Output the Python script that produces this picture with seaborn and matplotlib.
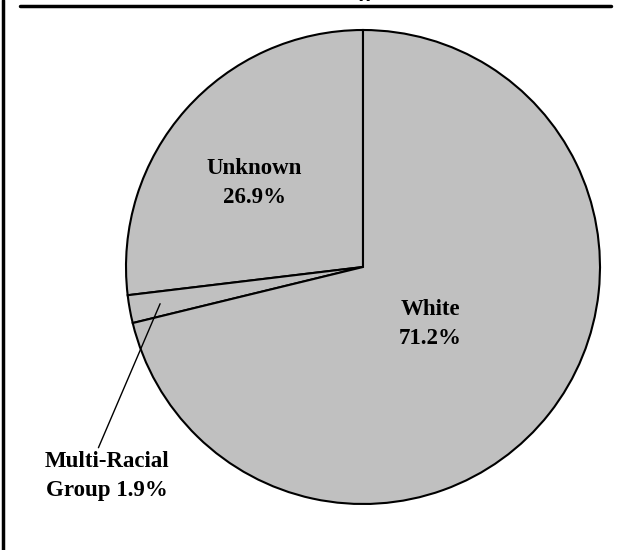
import numpy as np
import matplotlib
matplotlib.use("Agg")
import matplotlib.pyplot as plt
import seaborn as sns

# Data
groups = ["Unknown", "Multi-Racial\nGroup", "White"]
shares = [26.9, 1.9, 71.2]

sns.set_theme(style="white")
plt.rcParams["font.family"] = ["Liberation Serif", "DejaVu Serif"]
plt.rcParams["text.color"] = "black"

fig = plt.figure(figsize=(6.26, 5.5), dpi=100)
ax = fig.add_axes([0, 0, 1, 1])

cx, cy, r = 363, 283, 237
colors = sns.color_palette(["#c0c0c0"] * len(shares))
wedges, _ = ax.pie(shares, colors=colors, startangle=90, counterclock=True,
                   center=(cx, cy), radius=r, frame=True,
                   wedgeprops=dict(edgecolor="black", linewidth=1.5))
ax.set_xlim(0, 626)
ax.set_ylim(0, 550)
ax.set_aspect("equal")
ax.axis("off")

font = dict(fontsize=16.5, fontweight="bold", ha="center", va="center",
            linespacing=1.5, color="black")
ax.text(254, 367, f"{groups[0]}\n{shares[0]}%", **font)
ax.text(430, 226, f"{groups[2]}\n{shares[2]}%", **font)

# leader line for the small wedge
w = wedges[1]
mid = np.deg2rad((w.theta1 + w.theta2) / 2)
px, py = cx + 0.87 * r * np.cos(mid), cy + 0.87 * r * np.sin(mid)
ax.annotate(f"Multi-Racial\nGroup {shares[1]}%", xy=(px, py), xytext=(107, 74),
            arrowprops=dict(arrowstyle="-", color="black", lw=1,
                            shrinkA=0, shrinkB=0, relpos=(0.42, 1.0)),
            **font)

# frame lines and title clipped at the top edge
ax.plot([3, 3], [0, 550], color="black", lw=2.5, clip_on=False)
ax.plot([20, 611], [544, 544], color="black", lw=2.5, clip_on=False)
ax.text(375, 549, "Staff", fontsize=16, fontweight="bold", fontstyle="italic",
        ha="right", va="bottom", color="black", clip_on=False)

fig.savefig("out.png", dpi=100)
